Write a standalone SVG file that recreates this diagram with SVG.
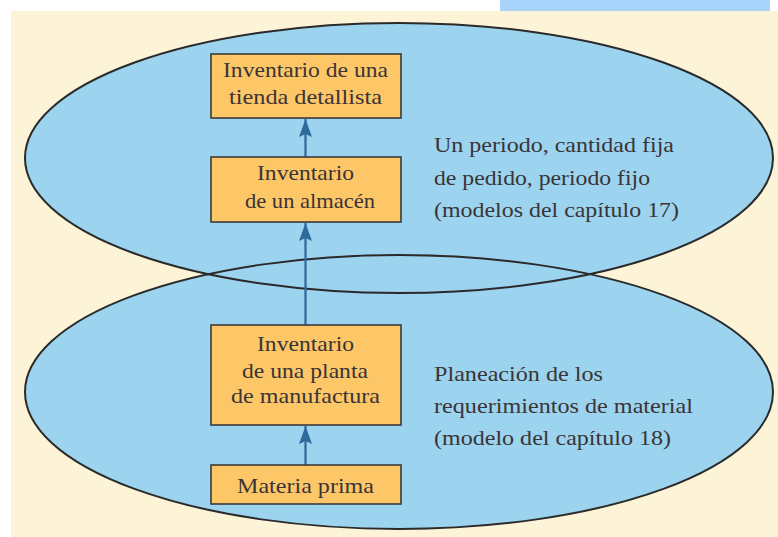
<svg xmlns="http://www.w3.org/2000/svg" width="778" height="537" viewBox="0 0 778 537">
<style>
.bg{fill:#fdf4d8}
.ell{fill:#9cd3ee;stroke:none}
.ells{fill:none;stroke:#2a2a2a;stroke-width:2}
.box{fill:#fdc768;stroke:#3a3a3a;stroke-width:1.6}
.t{font-size:21px;fill:#3a3436}
.c{text-anchor:middle}
.conn{stroke:#2e6a9c;stroke-width:2.2;fill:none}
</style>
<defs>
<marker id="ah" viewBox="0 0 18 13" refX="18" refY="6.5" markerWidth="18" markerHeight="13" markerUnits="userSpaceOnUse" orient="auto">
<path d="M0,0 L18,6.5 L0,13 L3,6.5 z" fill="#2e6a9c"/>
</marker>
</defs>
<rect x="0" y="0" width="778" height="537" fill="#ffffff"/>
<rect x="500" y="0" width="270" height="11" fill="#a8d4fb"/>
<rect class="bg" x="11" y="11" width="767" height="526"/>
<g id="ellipse-top-fill"><ellipse class="ell" cx="399" cy="158" rx="374" ry="135"/></g>
<g id="ellipse-bottom-fill"><ellipse class="ell" cx="399" cy="392" rx="374" ry="137"/></g>
<g id="ellipse-outlines">
<ellipse class="ells" cx="399" cy="158" rx="374" ry="135"/>
<ellipse class="ells" cx="399" cy="392" rx="374" ry="137"/>
</g>
<g id="connectors">
<line class="conn" x1="305.5" y1="157" x2="305.5" y2="119" marker-end="url(#ah)"/>
<line class="conn" x1="305.5" y1="325" x2="305.5" y2="223" marker-end="url(#ah)"/>
<line class="conn" x1="305.5" y1="465" x2="305.5" y2="426" marker-end="url(#ah)"/>
</g>
<g font-family="Liberation Serif, DejaVu Serif, serif">
<g id="node-tienda">
<rect class="box" x="211" y="54" width="190" height="64"/>
<text class="t c" x="305.5" y="77" textLength="165" lengthAdjust="spacingAndGlyphs">Inventario de una</text>
<text class="t c" x="305.5" y="104" textLength="153" lengthAdjust="spacingAndGlyphs">tienda detallista</text>
</g>
<g id="node-almacen">
<rect class="box" x="211" y="157" width="190" height="65"/>
<text class="t c" x="305.5" y="180" textLength="97" lengthAdjust="spacingAndGlyphs">Inventario</text>
<text class="t c" x="310" y="208" textLength="130" lengthAdjust="spacingAndGlyphs">de un almacén</text>
</g>
<g id="node-planta">
<rect class="box" x="211" y="325" width="190" height="100"/>
<text class="t c" x="305.5" y="351" textLength="97" lengthAdjust="spacingAndGlyphs">Inventario</text>
<text class="t c" x="305" y="378" textLength="126" lengthAdjust="spacingAndGlyphs">de una planta</text>
<text class="t c" x="305.5" y="403" textLength="149" lengthAdjust="spacingAndGlyphs">de manufactura</text>
</g>
<g id="node-materia">
<rect class="box" x="211" y="465" width="190" height="39"/>
<text class="t c" x="305.5" y="493" textLength="137" lengthAdjust="spacingAndGlyphs">Materia prima</text>
</g>
<g id="label-top">
<text class="t" x="434" y="152" textLength="240" lengthAdjust="spacingAndGlyphs">Un periodo, cantidad fija</text>
<text class="t" x="434" y="185" textLength="216" lengthAdjust="spacingAndGlyphs">de pedido, periodo fijo</text>
<text class="t" x="434" y="217" textLength="245" lengthAdjust="spacingAndGlyphs">(modelos del capítulo 17)</text>
</g>
<g id="label-bottom">
<text class="t" x="434" y="381" textLength="169" lengthAdjust="spacingAndGlyphs">Planeación de los</text>
<text class="t" x="434" y="413" textLength="259" lengthAdjust="spacingAndGlyphs">requerimientos de material</text>
<text class="t" x="434" y="445" textLength="237" lengthAdjust="spacingAndGlyphs">(modelo del capítulo 18)</text>
</g>
</g>
</svg>
